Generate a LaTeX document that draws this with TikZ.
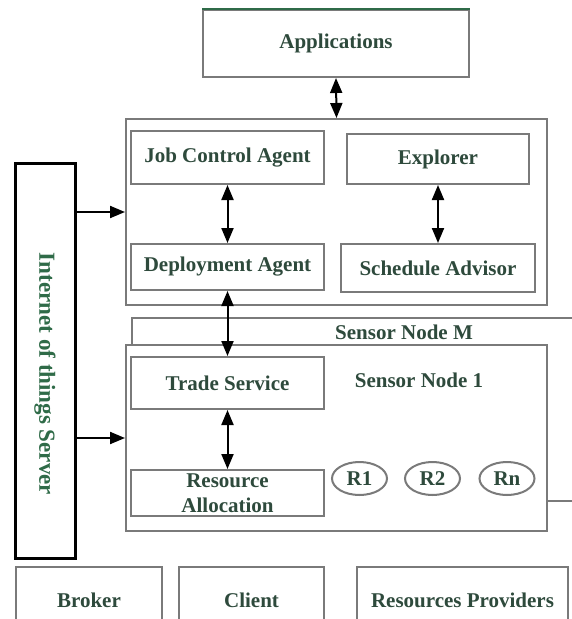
\documentclass[tikz,border=0pt]{standalone}
\usepackage{fontspec}
\setmainfont{Liberation Serif}
\usetikzlibrary{arrows.meta,shapes.geometric}
\definecolor{txtgreen}{HTML}{2E4A3C}
\definecolor{linegray}{HTML}{7A7A7A}
\definecolor{topgreen}{HTML}{2F6B48}
\tikzset{
  box/.style={draw=linegray, line width=2pt, fill=white, inner sep=0pt,
    text=txtgreen, font=\fontsize{21}{25}\selectfont\bfseries, align=center},
  frame/.style={draw=linegray, line width=2pt, fill=white, inner sep=0pt},
  res/.style={box, ellipse},
  lbl/.style={text=txtgreen, font=\fontsize{21}{25}\selectfont\bfseries, inner sep=0pt},
  link/.style={line width=2pt, {Triangle[length=15pt,width=12pt]}-{Triangle[length=15pt,width=12pt]}},
  feed/.style={line width=2pt, -{Triangle[length=15pt,width=12pt]}}
}
\begin{document}
\begin{tikzpicture}[x=1pt,y=-1pt]
\clip (0,0) rectangle (572,619);
\fill[white] (0,0) rectangle (572,619);

\node[box, minimum width=266, minimum height=67] (apps) at (336,43.5) {Applications};
\draw[topgreen, line width=2.6pt] (apps.north west) -- (apps.north east);

% upper block
\node[frame, minimum width=421, minimum height=186] (upper) at (336.5,212) {};
\node[box, minimum width=193, minimum height=53] (jca) at (227.5,157.5) {Job Control Agent};
\node[box, minimum width=182, minimum height=50] (explorer) at (438,159) {Explorer};
\node[box, minimum width=193, minimum height=46] (deploy) at (227.5,267) {Deployment Agent};
\node[box, minimum width=194, minimum height=48] (advisor) at (438,268) {Schedule Advisor};

% sensor nodes
\node[frame, anchor=north west, minimum width=459, minimum height=183] (sensorM) at (131,317) {};
\node[lbl] (labelM) at (404,332) {Sensor Node M};
\node[frame, minimum width=421, minimum height=186] (sensor1) at (336.5,438) {};
\node[lbl] (label1) at (419,380) {Sensor Node 1};
\node[box, minimum width=193, minimum height=52] (trade) at (227.5,383) {Trade Service};
\node[box, minimum width=193, minimum height=46] (alloc) at (227.5,493) {Resource\\Allocation};
\node[res, minimum width=55, minimum height=33] (r1) at (359.5,478.5) {R1};
\node[res, minimum width=55, minimum height=33] (r2) at (432.5,478.5) {R2};
\node[res, minimum width=55, minimum height=33] (rn) at (507,478.5) {Rn};

% server
\node[draw=black, line width=3pt, fill=white, minimum width=60, minimum height=395, inner sep=0pt] (iot) at (45,360.5) {};
\node[text=topgreen, font=\fontsize{23}{28}\selectfont\bfseries, rotate=-90, inner sep=0pt] (iotlabel) at (45,374) {Internet of things Server};

% bottom row
\node[box, anchor=north, minimum width=146, minimum height=66] (broker) at (89,566) {Broker};
\node[box, anchor=north, minimum width=145, minimum height=66] (client) at (251.5,566) {Client};
\node[box, anchor=north, minimum width=211, minimum height=66] (providers) at (462.5,566) {Resources Providers};

\draw[link] (apps.south) -- (upper.north);
\draw[link] (jca) -- (deploy);
\draw[link] (explorer) -- (advisor);
\draw[link] (deploy) -- (trade);
\draw[link] (trade) -- (alloc);
\draw[feed] (iot.east |- upper.west) -- (upper.west);
\draw[feed] (iot.east |- sensor1.west) -- (sensor1.west);
\end{tikzpicture}
\end{document}
